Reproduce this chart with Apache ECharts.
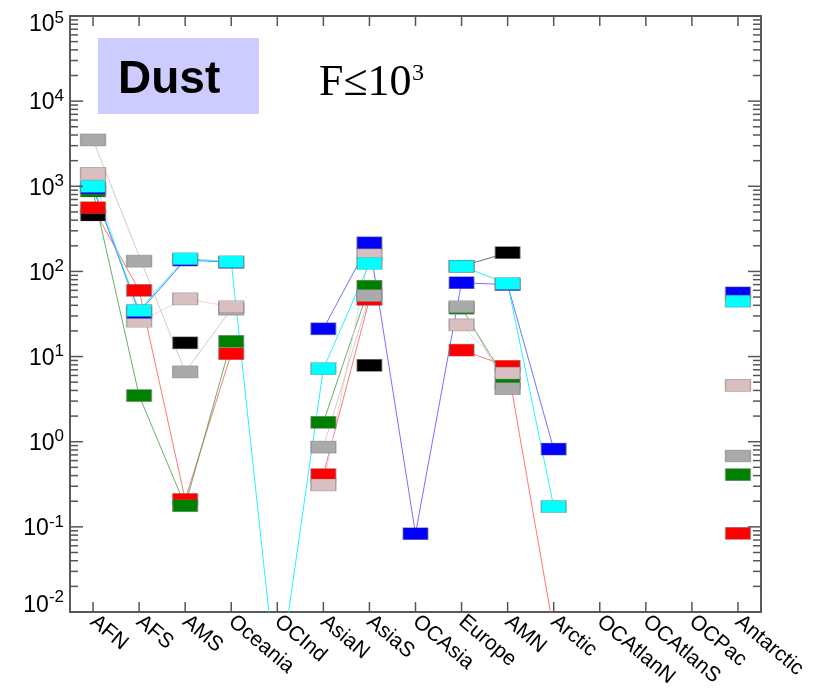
<!DOCTYPE html>
<html>
<head>
<meta charset="utf-8">
<script src="https://cdn.jsdelivr.net/npm/echarts@6/dist/echarts.min.js"></script>
<style>html,body{margin:0;padding:0;background:#fff;}#c{width:833px;height:691px;}</style>
</head>
<body>
<div id="c"></div>
<script>
const categories = ['AFN','AFS','AMS','Oceania','OCInd','AsiaN','AsiaS','OCAsia','Europe','AMN','Arctic','OCAtlanN','OCAtlanS','OCPac','Antarctic'];
const yTickValues = [0.01, 0.1, 1, 10, 100, 1000, 10000, 100000];

const blackVals = [460, null, 14.5, null, null, null, 7.9, null, 115, 166, null, null, null, null, null];
const redVals   = [560, 60, 0.21, 10.8, null, 0.41, 47, null, 11.9, 7.7, 0.006, null, null, null, 0.084];
const greenVals = [880, 3.48, 0.177, 15.1, null, 1.69, 67, null, 37, 4.9, null, null, null, null, 0.41];
const grayAVals = [3500, null, 6.6, 36, null, null, null, null, null, null, null, null, null, null, null];
const grayBVals = [null, 132, null, null, null, 0.865, 52, null, 38.5, 4.2, null, null, null, null, 0.68];
const pinkVals  = [1420, 26, 47.7, 38.5, null, 0.31, 161, null, 23.6, 6.4, null, null, null, null, 4.6];
const blueVals  = [950, 33, 136, 128, null, 21.2, 217, 0.083, 73.6, 70, 0.82, null, null, null, 56];
const cyanVals  = [1000, 34.8, 141, 130, 0.0012, 7.2, 124, null, 115, 72, 0.173, null, null, null, 44.7];

const groups = [
  {name:'black', data:blackVals, mark:'#000000', line:'#555555', connect:false},
  {name:'red',   data:redVals,   mark:'#ff0000', line:'#ff6060', connect:false},
  {name:'green', data:greenVals, mark:'#008000', line:'#4ea04e', connect:false},
  {name:'grayA', data:grayAVals, mark:'#aaaaaa', line:'#c4c4c4', connect:true},
  {name:'grayB', data:grayBVals, mark:'#aaaaaa', line:'#c4c4c4', connect:false},
  {name:'pink',  data:pinkVals,  mark:'#d9bfbf', line:'#e6d0d0', connect:false},
  {name:'blue',  data:blueVals,  mark:'#0000ff', line:'#5a5aff', connect:false},
  {name:'cyan',  data:cyanVals,  mark:'#00ffff', line:'#00f0ff', connect:false}
];

const minorTickVals = [];
for (let k = -2; k < 5; k++) {
  for (let m = 2; m <= 9; m++) minorTickVals.push([0, m * Math.pow(10, k)]);
}
const majorTickVals = yTickValues.map(v => [0, v]);
const xTickVals = categories.map((c, i) => [i, 1]);

const tickStroke = {stroke:'#555', lineWidth:1.5};
function yTickRenderer(len){
  return function(params, api){
    const y = api.coord([0, api.value(1)])[1];
    const cs = params.coordSys;
    return {type:'group', children:[
      {type:'line', shape:{x1:cs.x, y1:y, x2:cs.x+len, y2:y}, style:tickStroke},
      {type:'line', shape:{x1:cs.x+cs.width-len, y1:y, x2:cs.x+cs.width, y2:y}, style:tickStroke}
    ]};
  };
}

const series = [];
groups.forEach(g => {
  series.push({
    type:'line', name:g.name + '_line', data:g.data, symbol:'none',
    connectNulls:g.connect, z:2, silent:true,
    lineStyle:{color:g.line, width:1, opacity:0.85}
  });
});
groups.forEach(g => {
  series.push({
    type:'scatter', name:g.name, data:g.data, symbol:'rect', symbolSize:[25,12], z:3,
    itemStyle:{color:g.mark, opacity:1, borderColor:'rgba(120,120,120,0.55)', borderWidth:1}
  });
});
series.push({type:'custom', name:'minorTicks', data:minorTickVals, z:5, silent:true, clip:false, renderItem:yTickRenderer(8)});
series.push({type:'custom', name:'majorTicks', data:majorTickVals, z:5, silent:true, clip:false, renderItem:yTickRenderer(13)});
series.push({
  type:'custom', name:'xTicks', data:xTickVals, z:5, silent:true, clip:false,
  renderItem:function(params, api){
    const x = api.coord([api.value(0), 1])[0];
    const cs = params.coordSys;
    return {type:'group', children:[
      {type:'line', shape:{x1:x, y1:cs.y+cs.height, x2:x, y2:cs.y+cs.height-10}, style:tickStroke},
      {type:'line', shape:{x1:x, y1:cs.y, x2:x, y2:cs.y+10}, style:tickStroke}
    ]};
  }
});

function yLabel(v){
  const e = Math.round(Math.log10(v));
  if (e === 5) return '{bt|10}{st|' + e + '}';
  if (e === -2) return '{bb|10}{sb|' + e + '}';
  return '{b|10}{s|' + e + '}';
}
const FF = 'Liberation Sans, Arial, sans-serif';

const axisLineStyle = {color:'#5a5a5a', width:2};
const option = {
  animation:false,
  grid:{left:70, right:72, top:16, bottom:79, containLabel:false},
  xAxis:[
    {type:'category', data:categories, boundaryGap:true, position:'bottom',
     axisLine:{lineStyle:axisLineStyle},
     axisTick:{show:false},
     axisLabel:{interval:0, rotate:-40, fontSize:21, color:'#000', fontFamily:FF, margin:7},
     splitLine:{show:false}},
    {type:'category', data:categories, boundaryGap:true, position:'top',
     axisLine:{lineStyle:axisLineStyle},
     axisTick:{show:false},
     axisLabel:{show:false}, splitLine:{show:false}}
  ],
  yAxis:[
    {type:'log', logBase:10, min:0.01, max:100000, splitNumber:7, position:'left',
     axisLine:{show:true, lineStyle:axisLineStyle},
     axisTick:{show:false},
     splitLine:{show:false},
     axisLabel:{formatter:yLabel, margin:6, color:'#000', fontSize:23, fontFamily:FF,
       rich:{
         b:{fontSize:23, fontFamily:FF, color:'#000', padding:[4,0,0,0]},
         s:{fontSize:17, fontFamily:FF, color:'#000', padding:[0,0,10,0]},
         bt:{fontSize:23, fontFamily:FF, color:'#000', padding:[18,0,0,0]},
         st:{fontSize:17, fontFamily:FF, color:'#000', padding:[4,0,0,0]},
         bb:{fontSize:23, fontFamily:FF, color:'#000', padding:[0,0,12,0]},
         sb:{fontSize:17, fontFamily:FF, color:'#000', padding:[0,0,30,0]}
       }}},
    {type:'log', logBase:10, min:0.01, max:100000, splitNumber:7, position:'right',
     axisLine:{show:true, lineStyle:axisLineStyle},
     axisTick:{show:false},
     splitLine:{show:false}, axisLabel:{show:false}}
  ],
  graphic:[
    {type:'rect', left:98, top:38, shape:{width:161, height:76}, style:{fill:'#ccccff'}, z:10},
    {type:'text', left:118, top:57, style:{text:'Dust', font:'bold 46px "Liberation Sans", Arial, sans-serif', fill:'#000'}, z:11},
    {type:'text', left:319, top:61, style:{text:'F≤10', font:'44px "Liberation Serif", "Times New Roman", serif', fill:'#000'}, z:11},
    {type:'text', left:412, top:62, style:{text:'3', font:'24px "Liberation Serif", "Times New Roman", serif', fill:'#000'}, z:11}
  ],
  series:series
};

const chart = echarts.init(document.getElementById('c'), null, {renderer:'canvas'});
chart.setOption(option);
</script>
</body>
</html>
